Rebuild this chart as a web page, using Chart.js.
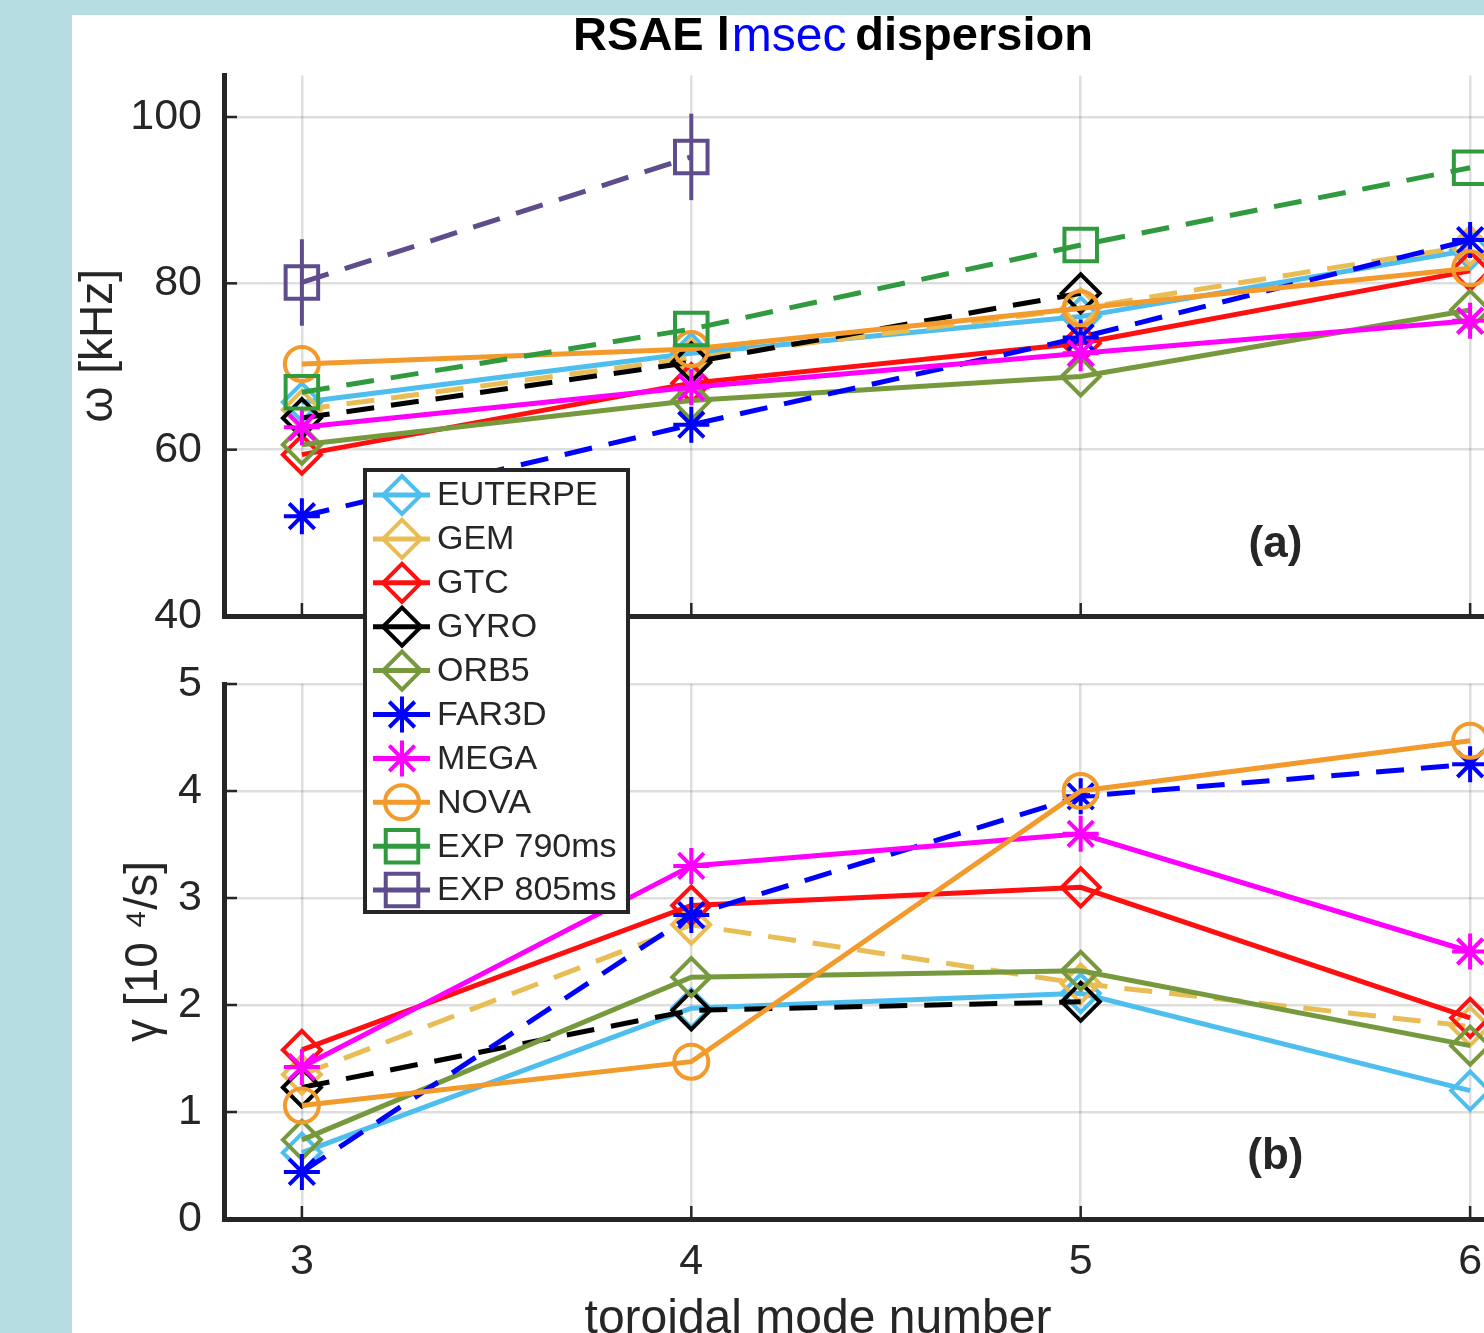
<!DOCTYPE html>
<html><head><meta charset="utf-8">
<script src="https://cdn.jsdelivr.net/npm/chart.js@4.4.1/dist/chart.umd.min.js"></script>
<style>
html,body{margin:0;padding:0;width:1484px;height:1333px;overflow:hidden;background:#b6dee2;}
#panel{position:absolute;left:72px;top:15px;width:1412px;height:1318px;background:#fff;}
#wrap{position:absolute;left:72px;top:0;width:1522px;height:1350px;}
#wrap canvas{position:absolute;left:0;top:0;}
</style></head><body>
<div id="panel"></div>
<div id="wrap">
<canvas id="topChart" width="1522" height="664" style="z-index:1;width:1522px;height:664px"></canvas>
<canvas id="botChart" width="1522" height="1350" style="z-index:2;width:1522px;height:1350px"></canvas>
</div>
<script>
// ---------------- data ----------------
const modeNumbers = [3, 4, 5, 6];
const seriesNames = ['EUTERPE','GEM','GTC','GYRO','ORB5','FAR3D','MEGA','NOVA','EXP 790ms','EXP 805ms'];
const omegaTicks = [40, 60, 80, 100];
const gammaTicks = [0, 1, 2, 3, 4, 5];

// omega [kHz]
const omegaEUTERPE = [65.7, 71.6, 76.0, 84.0];
const omegaGEM     = [64.8, 71.0, 77.0, 84.5];
const omegaGTC     = [59.4, 68.0, 72.8, 81.5];
const omegaGYRO    = [63.8, 70.5, 78.8];
const omegaORB5    = [60.6, 65.9, 68.8, 76.8];
const omegaFAR3D   = [52.0, 63.0, 73.5, 85.2];
const omegaMEGA    = [62.7, 67.5, 71.6, 75.5];
const omegaNOVA    = [70.3, 72.1, 77.0, 81.8];
const omegaEXP790  = [66.9, 74.5, 84.6, 93.9];
const omegaEXP805  = [80.1, 95.2];
const omegaEXP805err = [5.2, 5.2];

// gamma [10^4/s]
const gammaEUTERPE = [0.62, 1.97, 2.11, 1.20];
const gammaGEM     = [1.35, 2.75, 2.20, 1.80];
const gammaGTC     = [1.58, 2.93, 3.10, 1.88];
const gammaGYRO    = [1.23, 1.95, 2.03];
const gammaORB5    = [0.74, 2.26, 2.32, 1.62];
const gammaFAR3D   = [0.44, 2.84, 3.95, 4.25];
const gammaMEGA    = [1.42, 3.30, 3.60, 2.50];
const gammaNOVA    = [1.06, 1.47, 4.00, 4.47];

// ---------------- styles ----------------
const FONT = "'Liberation Sans', Arial, Helvetica, sans-serif";
const axisColor = '#262626';
const gridColor = 'rgba(0,0,0,0.13)';
const seriesStyles = [
  {color:'#4dbeee', dash:false, marker:'rectRot', r:19},
  {color:'#e9bd55', dash:true,  marker:'rectRot', r:19},
  {color:'#ff1010', dash:false, marker:'rectRot', r:19},
  {color:'#000000', dash:true,  marker:'rectRot', r:19},
  {color:'#77993d', dash:false, marker:'rectRot', r:19},
  {color:'#0000ff', dash:true,  marker:'star',    r:18},
  {color:'#ff00ff', dash:false, marker:'star',    r:18},
  {color:'#f39a2c', dash:false, marker:'circle',  r:17},
  {color:'#2f9a3e', dash:true,  marker:'rect',    r:23},
  {color:'#5f4c8c', dash:true,  marker:'rect',    r:23}
];

function makeDataset(i, values) {
  const st = seriesStyles[i];
  return {
    label: seriesNames[i],
    data: values.map((v, k) => ({x: modeNumbers[k], y: v})),
    borderColor: st.color,
    backgroundColor: 'rgba(0,0,0,0)',
    borderWidth: 5,
    borderDash: st.dash ? [28, 17] : [],
    pointStyle: st.marker,
    pointRadius: st.r,
    pointHoverRadius: st.r,
    pointBorderWidth: 4,
    pointBorderColor: st.color,
    pointBackgroundColor: 'rgba(0,0,0,0)',
    fill: false,
    tension: 0,
    order: -i
  };
}

Chart.defaults.font.family = FONT;
Chart.defaults.color = axisColor;

function fixedTicks(list) { return s => { s.ticks = list.map(v => ({value: v})); }; }

const inwardTicks = {
  id: 'inwardTicks',
  afterDraw(chart) {
    const {ctx} = chart; const x = chart.scales.x, y = chart.scales.y;
    ctx.save(); ctx.strokeStyle = axisColor; ctx.lineWidth = 2.5; ctx.setLineDash([]);
    x.ticks.forEach(t => { const p = x.getPixelForValue(t.value); ctx.beginPath(); ctx.moveTo(p, y.bottom); ctx.lineTo(p, y.bottom - 13); ctx.stroke(); });
    y.ticks.forEach(t => { const p = y.getPixelForValue(t.value); ctx.beginPath(); ctx.moveTo(x.left, p); ctx.lineTo(x.left + 13, p); ctx.stroke(); });
    ctx.restore();
  }
};

const panelLabel = {
  id: 'panelLabel',
  afterDraw(chart, args, opts) {
    const {ctx} = chart;
    ctx.save();
    ctx.font = 'bold 44px ' + FONT; ctx.fillStyle = axisColor; ctx.textAlign = 'center'; ctx.textBaseline = 'middle';
    ctx.fillText(opts.text, chart.scales.x.getPixelForValue(opts.x), chart.scales.y.getPixelForValue(opts.y));
    ctx.restore();
  }
};

const errorBars = {
  id: 'errorBars',
  afterDatasetsDraw(chart) {
    const {ctx} = chart; const x = chart.scales.x, y = chart.scales.y;
    ctx.save(); ctx.strokeStyle = seriesStyles[9].color; ctx.lineWidth = 4; ctx.setLineDash([]);
    omegaEXP805.forEach((v, k) => {
      const px = x.getPixelForValue(modeNumbers[k]);
      ctx.beginPath(); ctx.moveTo(px, y.getPixelForValue(v - omegaEXP805err[k])); ctx.lineTo(px, y.getPixelForValue(v + omegaEXP805err[k])); ctx.stroke();
    });
    ctx.restore();
  }
};

const titleOverlay = {
  id: 'titleOverlay',
  afterDraw(chart) {
    const {ctx} = chart; const t = chart.titleBlock;
    const cx = (t.left + t.right) / 2, cy = (t.top + t.bottom) / 2 - 1;
    ctx.save();
    ctx.font = 'bold 47px ' + FONT;
    const full = ctx.measureText('RSAE linear dispersion').width;
    const start = cx - full / 2;
    const w1 = ctx.measureText('RSAE l').width;
    const w2 = ctx.measureText('RSAE linear').width;
    const top = Math.max(15, cy - 26);
    ctx.fillStyle = '#fff'; ctx.fillRect(start + w1 + 1, top, w2 - w1 + 1, cy + 26 - top);
    ctx.font = '48px ' + FONT; ctx.fillStyle = '#0000ff'; ctx.textBaseline = 'middle'; ctx.textAlign = 'left';
    ctx.fillText('msec', start + w1 + 2, cy + 1);
    ctx.restore();
  }
};

function drawMarker(ctx, st, x, y) {
  if (Chart.helpers && Chart.helpers.drawPoint) {
    Chart.helpers.drawPoint(ctx, {pointStyle: st.marker, radius: st.r, borderWidth: 4, rotation: 0}, x, y);
  }
}

const customLegend = {
  id: 'customLegend',
  afterDraw(chart, args, o) {
    const {ctx} = chart;
    ctx.save();
    ctx.setLineDash([]);
    ctx.fillStyle = '#fff'; ctx.fillRect(o.left, o.top, o.width, o.height);
    ctx.lineWidth = 4; ctx.strokeStyle = axisColor; ctx.strokeRect(o.left, o.top, o.width, o.height);
    seriesNames.forEach((name, i) => {
      const st = seriesStyles[i]; const yy = o.firstY + i * o.rowH;
      ctx.strokeStyle = st.color; ctx.lineWidth = 5;
      ctx.beginPath(); ctx.moveTo(o.lineX0, yy); ctx.lineTo(o.lineX1, yy); ctx.stroke();
      ctx.lineWidth = 4; ctx.fillStyle = 'rgba(0,0,0,0)';
      drawMarker(ctx, st, o.markX, yy);
      ctx.fillStyle = axisColor; ctx.font = '34px ' + FONT; ctx.textBaseline = 'middle'; ctx.textAlign = 'left';
      ctx.fillText(name, o.textX, yy + 1);
    });
    ctx.restore();
  }
};

const xTitle = {
  id: 'xTitle',
  afterDraw(chart, args, o) {
    const {ctx} = chart;
    ctx.save(); ctx.font = '48px ' + FONT; ctx.fillStyle = axisColor; ctx.textAlign = 'center'; ctx.textBaseline = 'middle';
    ctx.fillText(o.text, o.cx, o.cy); ctx.restore();
  }
};

function axisCommon() {
  return {
    grid: {color: gridColor, lineWidth: 2.5, drawTicks: false},
    border: {display: true, color: axisColor, width: 5}
  };
}

// ---------------- top chart: omega ----------------
const topDatasets = [omegaEUTERPE, omegaGEM, omegaGTC, omegaGYRO, omegaORB5, omegaFAR3D, omegaMEGA, omegaNOVA, omegaEXP790, omegaEXP805]
  .map((vals, i) => makeDataset(i, vals));

const topChart = new Chart(document.getElementById('topChart'), {
  type: 'line',
  data: {datasets: topDatasets},
  plugins: [errorBars, inwardTicks, panelLabel, titleOverlay],
  options: {
    responsive: false, animation: false, events: [],
    layout: {padding: {left: 0, right: 0, top: 0, bottom: 0}},
    plugins: {
      legend: {display: false}, tooltip: {enabled: false},
      title: {display: true, text: 'RSAE linear dispersion', color: '#000', font: {size: 47, weight: 'bold'}, padding: {top: 9, bottom: 10}},
      panelLabel: {text: '(a)', x: 5.5, y: 48.6}
    },
    scales: {
      x: Object.assign(axisCommon(), {
        type: 'linear', min: 2.8, max: 6.2,
        afterBuildTicks: fixedTicks(modeNumbers),
        ticks: {display: false},
        afterFit: s => { s.height = 48; }
      }),
      y: Object.assign(axisCommon(), {
        type: 'linear', min: 40, max: 105,
        afterBuildTicks: fixedTicks(omegaTicks),
        ticks: {font: {size: 43}, color: axisColor, padding: 22, callback: v => String(v)},
        title: {display: true, text: 'ω [kHz]', font: {size: 46}, color: axisColor, padding: {top: 0, bottom: 0}},
        afterFit: s => { s.width = 152; }
      }),
      yR: {position: 'right', display: true, grid: {display: false, drawTicks: false}, border: {display: false}, ticks: {display: false}, afterFit: s => { s.width = 46; }}
    }
  }
});

// ---------------- bottom chart: gamma ----------------
const botDatasets = [gammaEUTERPE, gammaGEM, gammaGTC, gammaGYRO, gammaORB5, gammaFAR3D, gammaMEGA, gammaNOVA]
  .map((vals, i) => makeDataset(i, vals));

const botChart = new Chart(document.getElementById('botChart'), {
  type: 'line',
  data: {datasets: botDatasets},
  plugins: [inwardTicks, panelLabel, xTitle, customLegend],
  options: {
    responsive: false, animation: false, events: [],
    layout: {padding: {left: 0, right: 0, top: 684, bottom: 0}},
    plugins: {
      legend: {display: false}, tooltip: {enabled: false}, title: {display: false},
      panelLabel: {text: '(b)', x: 5.5, y: 0.58},
      xTitle: {text: 'toroidal mode number', cx: 746, cy: 1320},
      customLegend: {left: 293, top: 470, width: 263, height: 442, firstY: 495, rowH: 43.9,
                     lineX0: 301, lineX1: 358, markX: 330, textX: 365}
    },
    scales: {
      x: Object.assign(axisCommon(), {
        type: 'linear', min: 2.8, max: 6.2,
        afterBuildTicks: fixedTicks(modeNumbers),
        ticks: {font: {size: 43}, color: axisColor, padding: 17, callback: v => String(v), maxRotation: 0},
        afterFit: s => { s.height = 131; }
      }),
      y: Object.assign(axisCommon(), {
        type: 'linear', min: 0, max: 5,
        afterBuildTicks: fixedTicks(gammaTicks),
        ticks: {font: {size: 43}, color: axisColor, padding: 22, callback: v => String(v)},
        title: {display: true, text: 'γ [10 ⁴/s]', font: {size: 46}, color: axisColor, padding: {top: 45, bottom: 0}},
        afterFit: s => { s.width = 152; }
      }),
      yR: {position: 'right', display: true, grid: {display: false, drawTicks: false}, border: {display: false}, ticks: {display: false}, afterFit: s => { s.width = 46; }}
    }
  }
});
</script>
</body></html>
